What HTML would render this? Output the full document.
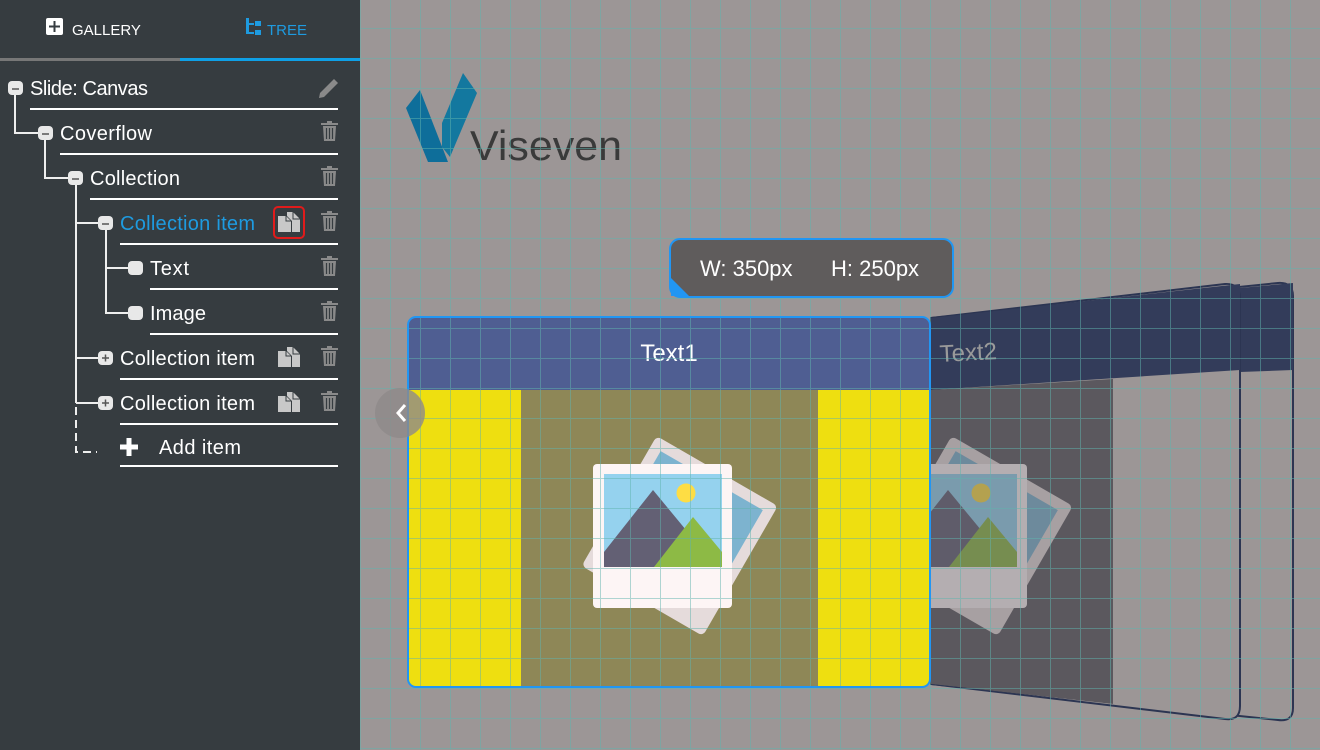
<!DOCTYPE html>
<html><head><meta charset="utf-8"><style>
html,body{margin:0;padding:0;width:1320px;height:750px;overflow:hidden;background:#363c40}
svg{display:block}
text{font-family:"Liberation Sans",sans-serif}
</style></head><body>
<svg width="1320" height="750" viewBox="0 0 1320 750" xmlns="http://www.w3.org/2000/svg">
<defs>
<pattern id="grid" x="0" y="28" width="30" height="30" patternUnits="userSpaceOnUse">
<path d="M0 0.5H30M0.5 0V30" stroke="#5fb3ad" stroke-width="1" fill="none" opacity="0.5"/>
</pattern>
<g id="trash"><rect x="0" y="2" width="17" height="2" fill="#8a8a8a"/><rect x="6" y="0" width="5" height="3" fill="#8a8a8a"/><path d="M2 5h13l-1 15H3z" fill="#8a8a8a"/><path d="M5.5 7v11M8.5 7v11M11.5 7v11" stroke="#363c40" stroke-width="1.2"/></g>
<g id="copy"><path d="M0 4h8l5 5v11H0z" fill="#c8c8c8"/><path d="M9 0h6l7 7v13h-8V9l-5-5z" fill="#c8c8c8"/><path d="M8 4v5h5M15 0v7h7" fill="none" stroke="#363c40" stroke-width="1"/></g>
<g id="photo">
<g transform="rotate(30 678 535)"><rect x="610" y="460" width="140" height="150" rx="5" fill="#e5dbdb"/><rect x="621" y="471" width="118" height="100" fill="#7db3cf"/></g>
<rect x="593" y="464" width="139" height="144" rx="4" fill="#fdf5f5"/>
<rect x="604" y="474" width="118" height="93" fill="#95d2ee"/>
<circle cx="686" cy="493" r="9.5" fill="#fedd44"/>
<path d="M604 552L653 490L700 547L690 567H604z" fill="#636074"/>
<path d="M654 567L693 517L722 552V567z" fill="#8dba45"/>
</g>
<clipPath id="c2"><polygon points="931,318 1240,284 1240,718 931,684"/></clipPath>
</defs>

<rect x="0" y="0" width="360" height="750" fill="#363c40"/>
<rect x="46" y="18" width="17" height="17" rx="2" fill="#fff"/>
<path d="M54.5 21v11M49 26.5h11" stroke="#363c40" stroke-width="2"/>
<text x="72" y="35" font-size="15" fill="#fff">GALLERY</text>
<g fill="#1e9be0"><rect x="246" y="18" width="3" height="16"/><rect x="246" y="23" width="8" height="2"/><rect x="246" y="32" width="8" height="2"/><rect x="255" y="21" width="6" height="5"/><rect x="255" y="30" width="6" height="5"/></g>
<text x="267" y="35" font-size="15" fill="#1e9be0">TREE</text>
<rect x="0" y="58" width="180" height="3" fill="#777"/>
<rect x="180" y="58" width="180" height="3" fill="#0fa0e6"/>

<g stroke="#eee" stroke-width="2" fill="none">
<path d="M15 90V133H40"/>
<path d="M45 135V178H70"/>
<path d="M76 180V403"/>
<path d="M76 358H100M76 403H100M76 223H100"/>
<path d="M106 225V313H130M106 268H130"/>
<path d="M76 407V452H97" stroke-dasharray="8 5"/>
</g>
<g fill="#e8e8e8">
<rect x="8" y="81" width="15" height="14" rx="4"/>
<rect x="38" y="126" width="15" height="14" rx="4"/>
<rect x="68" y="171" width="15" height="14" rx="4"/>
<rect x="98" y="216" width="15" height="14" rx="4"/>
<rect x="128" y="261" width="15" height="14" rx="4"/>
<rect x="128" y="306" width="15" height="14" rx="4"/>
<rect x="98" y="351" width="15" height="14" rx="4"/>
<rect x="98" y="396" width="15" height="14" rx="4"/>
</g>
<g stroke="#555" stroke-width="1.5"><path d="M12 89h7M42 134h7M72 179h7M102 224h7M102 358h7M105.5 354.5v7M102 403h7M105.5 399.5v7"/></g>
<g font-size="20" fill="#fff">
<text x="30" y="95" textLength="118">Slide: Canvas</text>
<text x="60" y="140" textLength="92">Coverflow</text>
<text x="90" y="185" textLength="90">Collection</text>
<text x="120" y="230" fill="#1e9be0" textLength="135">Collection item</text>
<text x="150" y="275" textLength="39">Text</text>
<text x="150" y="320" textLength="56">Image</text>
<text x="120" y="365" textLength="135">Collection item</text>
<text x="120" y="410" textLength="135">Collection item</text>
<text x="159" y="454" textLength="82">Add item</text>
</g>
<path d="M129 438v18M120 447h18" stroke="#fff" stroke-width="5"/>
<g fill="#fff">
<rect x="30" y="108" width="308" height="2"/>
<rect x="60" y="153" width="278" height="2"/>
<rect x="90" y="198" width="248" height="2"/>
<rect x="120" y="243" width="218" height="2"/>
<rect x="150" y="288" width="188" height="2"/>
<rect x="150" y="333" width="188" height="2"/>
<rect x="120" y="378" width="218" height="2"/>
<rect x="120" y="423" width="218" height="2"/>
<rect x="120" y="465" width="218" height="2"/>
</g>
<path d="M320 93l14-14 4 4-14 14-5 1z" fill="#8a8a8a"/>
<use href="#trash" x="321" y="121"/>
<use href="#trash" x="321" y="166"/>
<use href="#trash" x="321" y="211"/>
<use href="#trash" x="321" y="256"/>
<use href="#trash" x="321" y="301"/>
<use href="#trash" x="321" y="346"/>
<use href="#trash" x="321" y="391"/>
<use href="#copy" x="278" y="212"/>
<rect x="274" y="207" width="30" height="31" rx="4" fill="none" stroke="#e01b1b" stroke-width="2"/>
<use href="#copy" x="278" y="347"/>
<use href="#copy" x="278" y="392"/>

<rect x="360" y="0" width="960" height="750" fill="#9c9696"/>
<polygon points="406,108 420,90 448,162 428,162" fill="#0e6e9a"/>
<polygon points="442,123 463,73 477,93 450,157 442,147" fill="#13789f"/>
<text x="470" y="160" font-size="42" fill="#3a3a3a" textLength="152" lengthAdjust="spacingAndGlyphs">Viseven</text>

<path d="M931 318L1278 283Q1293 282 1293 296V708Q1293 722 1278 720L931 684z" fill="#9c9696" stroke="#2c3552" stroke-width="2"/>
<path d="M1240 288L1293 283V370L1240 372z" fill="#333c5a"/>
<path d="M931 318L1225 284Q1240 283 1240 298V706Q1240 721 1225 719L931 684z" fill="#9c9696" stroke="#2c3552" stroke-width="2"/>
<g clip-path="url(#c2)">
<polygon points="931,318 1240,283 1240,370 931,390" fill="#333c5a"/>
<polygon points="931,390 1113,379 1113,704 931,684" fill="#5b585e"/>
<g opacity="0.55" transform="translate(295 0)"><use href="#photo"/></g>
</g>
<text x="940" y="362" font-size="24" fill="#9a9a9a" transform="rotate(-3 940 362)">Text2</text>

<rect x="408" y="317" width="522" height="370" rx="8" fill="#eedf10"/>
<path d="M416 317H922Q930 317 930 325V390H408V325Q408 317 416 317z" fill="#4f5e92"/>
<rect x="521" y="390" width="297" height="297" fill="#8e8757"/>
<use href="#photo"/>
<text x="669" y="361" font-size="24" fill="#fff" text-anchor="middle">Text1</text>

<rect x="360" y="0" width="960" height="750" fill="url(#grid)"/>

<rect x="408" y="317" width="522" height="370" rx="8" fill="none" stroke="#2196f3" stroke-width="2"/>
<circle cx="400" cy="413" r="25" fill="#8f8a8a" opacity="0.8"/>
<path d="M405 405l-7 8 7 8" fill="none" stroke="#fff" stroke-width="3"/>

<rect x="670" y="239" width="283" height="58" rx="10" fill="#5f5c5c" stroke="#2196f3" stroke-width="2"/>
<path d="M671 278V296H689z" fill="#2196f3"/>
<text x="700" y="276" font-size="22" fill="#fff">W: 350px</text>
<text x="831" y="276" font-size="22" fill="#fff">H: 250px</text>
</svg>
</body></html>
